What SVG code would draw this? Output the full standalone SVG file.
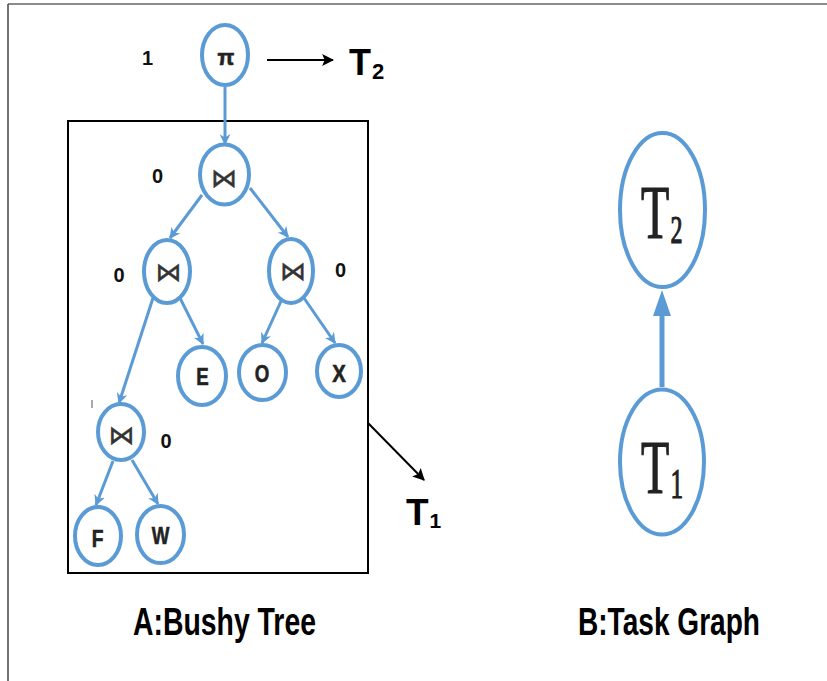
<svg xmlns="http://www.w3.org/2000/svg" width="827" height="681" viewBox="0 0 827 681">
<style>
.node{fill:none;stroke:#5B9BD5;stroke-width:4}
.edge{fill:none;stroke:#5B9BD5;stroke-width:3}
.blk{fill:none;stroke:#000;stroke-width:2}
.lbl{font-family:"Liberation Sans",Arial,sans-serif;font-weight:bold;fill:#222;stroke:#222;stroke-width:0.6;text-anchor:middle}
.num{font-family:"Liberation Sans",Arial,sans-serif;font-weight:bold;font-size:20px;fill:#111;text-anchor:middle}
.join{font-family:"DejaVu Sans",sans-serif;font-size:26px;fill:#333;stroke:#333;stroke-width:0.5;text-anchor:middle}
.ser{font-family:"Liberation Serif","Times New Roman",serif;fill:#222;stroke:#222;stroke-width:1.2}
.cap{font-family:"Liberation Sans",Arial,sans-serif;font-weight:bold;fill:#000}
</style>
<defs>
<marker id="ab" viewBox="0 0 10 10" refX="9" refY="5" markerWidth="11" markerHeight="11" markerUnits="userSpaceOnUse" orient="auto"><path d="M0,0 L10,5 L0,10 L3,5 z" fill="#5B9BD5"/></marker>
<marker id="ak" viewBox="0 0 10 10" refX="9" refY="5" markerWidth="12" markerHeight="12" markerUnits="userSpaceOnUse" orient="auto"><path d="M0,0 L10,5 L0,10 L2,5 z" fill="#000"/></marker>
</defs>
<rect width="827" height="681" fill="#fff"/>
<g id="frame">
<line x1="8" y1="4" x2="827" y2="4" stroke="#666" stroke-width="1.5"/>
<line x1="8" y1="4" x2="8" y2="681" stroke="#444" stroke-width="1.5"/>
<line x1="92" y1="400" x2="92" y2="408" stroke="#555" stroke-width="1"/>
</g>
<g id="t1box"><rect x="68" y="121" width="300" height="452" class="blk" stroke-width="2.5"/></g>
<g id="connectors">
<line x1="225" y1="87" x2="225" y2="144" class="edge" marker-end="url(#ab)"/>
<line x1="202" y1="195" x2="170" y2="238" class="edge" marker-end="url(#ab)"/>
<line x1="250" y1="188" x2="288" y2="237" class="edge" marker-end="url(#ab)"/>
<line x1="180" y1="298" x2="203" y2="344" class="edge" marker-end="url(#ab)"/>
<line x1="153" y1="298" x2="119" y2="403" class="edge" marker-end="url(#ab)"/>
<line x1="282" y1="299" x2="262" y2="343" class="edge" marker-end="url(#ab)"/>
<line x1="304" y1="298" x2="335" y2="343" class="edge" marker-end="url(#ab)"/>
<line x1="113" y1="461" x2="96" y2="505" class="edge" marker-end="url(#ab)"/>
<line x1="132" y1="460" x2="158" y2="504" class="edge" marker-end="url(#ab)"/>
<line x1="267" y1="60" x2="333" y2="60" class="blk" marker-end="url(#ak)"/>
<line x1="368" y1="423" x2="424" y2="480" class="blk" marker-end="url(#ak)"/>
<line x1="662" y1="387" x2="662" y2="312" stroke="#5B9BD5" stroke-width="5"/>
<polygon points="662,290 653,316 671,316" fill="#5B9BD5"/>
</g>
<g id="pi"><ellipse cx="225" cy="55" rx="23" ry="30" class="node" stroke-width="3.5"/><text x="226" y="65" class="lbl" font-size="22">π</text></g>
<text x="147.5" y="65" class="num">1</text>
<g id="j1"><ellipse cx="224.5" cy="174.5" rx="24.5" ry="30" class="node"/><text x="224" y="187" class="join">⋈</text></g>
<text x="157.5" y="183" class="num">0</text>
<g id="j2"><ellipse cx="167" cy="271.5" rx="23" ry="31.5" class="node"/><text x="168.5" y="281" class="join">⋈</text></g>
<text x="119" y="282" class="num">0</text>
<g id="j3"><ellipse cx="291" cy="271" rx="22" ry="32" class="node"/><text x="293" y="280" class="join">⋈</text></g>
<text x="340.5" y="277" class="num">0</text>
<g id="j4"><ellipse cx="121" cy="432" rx="23" ry="28" class="node"/><text x="121.5" y="444" class="join">⋈</text></g>
<text x="166" y="448" class="num">0</text>
<g id="E"><ellipse cx="202" cy="376" rx="24" ry="29" class="node"/><text transform="translate(202.5,385) scale(0.78,1)" class="lbl" font-size="24">E</text></g>
<g id="O"><ellipse cx="262.5" cy="372.5" rx="23.5" ry="27.5" class="node"/><text transform="translate(262,382) scale(0.78,1)" class="lbl" font-size="24">O</text></g>
<g id="X"><ellipse cx="339" cy="371" rx="22" ry="26" class="node"/><text transform="translate(339,382) scale(0.85,1)" class="lbl" font-size="24">X</text></g>
<g id="F"><ellipse cx="98" cy="536" rx="23" ry="29" class="node"/><text transform="translate(97.5,547) scale(0.8,1)" class="lbl" font-size="24">F</text></g>
<g id="W"><ellipse cx="160.5" cy="534.5" rx="23.5" ry="28.5" class="node"/><text transform="translate(160.5,544) scale(0.78,1)" class="lbl" font-size="24">W</text></g>
<g id="labelT2"><text x="349" y="75" class="cap" font-size="36">T<tspan font-size="22" dy="4" dx="1">2</tspan></text></g>
<g id="labelT1"><text x="406" y="525" class="cap" font-size="37">T<tspan font-size="21" dy="3" dx="1">1</tspan></text></g>
<g id="T2"><ellipse cx="662.5" cy="210" rx="42.5" ry="77" class="node" stroke-width="7"/><text transform="translate(641,238) scale(0.6,1)" class="ser" font-size="77">T<tspan font-size="40" dy="5" dx="2">2</tspan></text></g>
<g id="T1"><ellipse cx="662" cy="462" rx="42" ry="72.5" class="node" stroke-width="7"/><text transform="translate(641,493) scale(0.6,1)" class="ser" font-size="77">T<tspan font-size="42" dy="5" dx="2">1</tspan></text></g>
<text x="133" y="635" class="cap" font-size="38" textLength="183" lengthAdjust="spacingAndGlyphs">A:Bushy Tree</text>
<text x="578" y="635" class="cap" font-size="38" textLength="182" lengthAdjust="spacingAndGlyphs">B:Task Graph</text>
</svg>
